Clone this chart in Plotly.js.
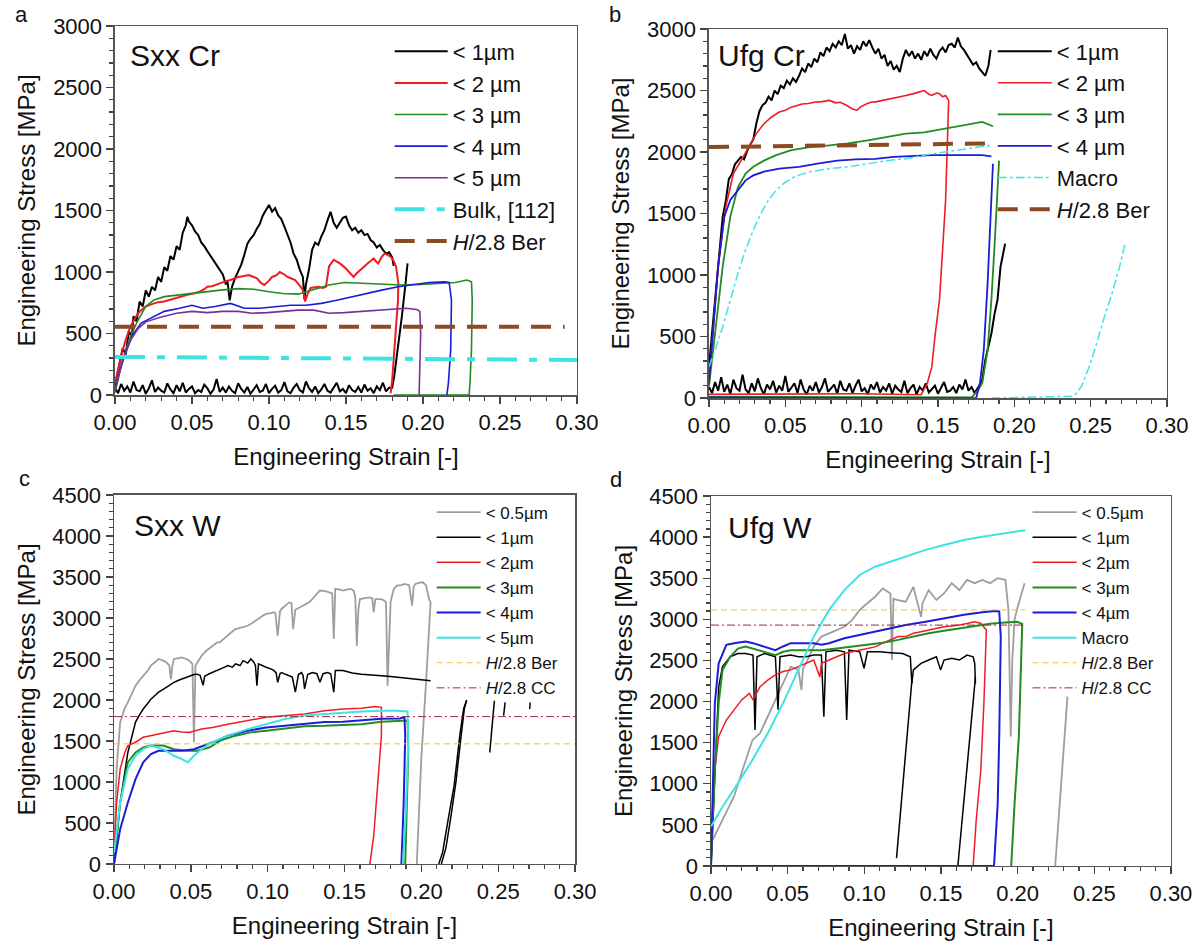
<!DOCTYPE html>
<html><head><meta charset="utf-8">
<script src="https://cdn.plot.ly/plotly-3.0.1.min.js"></script>
<style>html,body{margin:0;padding:0;background:#fff;}#chart{width:1199px;height:943px;}</style>
</head><body><div id="chart"></div>
<script>
// ===== Panel a: Sxx Cr (strain, stress MPa) =====
const aBlack = [[0,80],[0.003,250],[0.005,380],[0.007,330],[0.009,520],[0.011,470],[0.012,640],[0.014,600],[0.016,760],[0.018,720],[0.020,850],[0.022,800],[0.024,880],[0.026,850],[0.028,960],[0.030,920],[0.032,1040],[0.034,1010],[0.036,1130],[0.038,1100],[0.040,1210],[0.042,1180],[0.044,1320],[0.046,1380],[0.047,1450],[0.048,1410],[0.050,1380],[0.052,1330],[0.054,1300],[0.056,1240],[0.058,1210],[0.060,1170],[0.062,1130],[0.064,1090],[0.066,1060],[0.068,1010],[0.070,980],[0.072,900],[0.073,930],[0.0745,770],[0.076,880],[0.078,950],[0.080,1010],[0.082,1060],[0.084,1140],[0.086,1230],[0.088,1270],[0.090,1300],[0.092,1350],[0.094,1390],[0.096,1460],[0.098,1500],[0.100,1545],[0.102,1490],[0.104,1520],[0.106,1460],[0.108,1430],[0.110,1370],[0.112,1300],[0.114,1240],[0.116,1150],[0.118,1100],[0.120,1020],[0.122,960],[0.123,780],[0.124,900],[0.126,1020],[0.128,1180],[0.130,1240],[0.132,1220],[0.134,1290],[0.136,1340],[0.138,1420],[0.140,1490],[0.142,1400],[0.144,1360],[0.146,1400],[0.148,1440],[0.150,1450],[0.152,1380],[0.154,1340],[0.156,1360],[0.158,1320],[0.160,1340],[0.162,1300],[0.164,1310],[0.166,1260],[0.168,1240],[0.170,1200],[0.172,1220],[0.174,1180],[0.176,1150],[0.178,1160],[0.180,1120],[0.181,1050]];
const aBlackBase = [[0,60],[0.002,15],[0.004,90],[0.006,35],[0.008,70],[0.010,20],[0.012,110],[0.014,40],[0.016,30],[0.018,80],[0.020,10],[0.022,55],[0.024,120],[0.026,25],[0.028,60],[0.030,35],[0.032,20],[0.034,95],[0.036,45],[0.038,15],[0.040,80],[0.042,30],[0.044,100],[0.046,20],[0.048,50],[0.050,70],[0.052,15],[0.054,40],[0.056,25],[0.058,85],[0.060,55],[0.062,10],[0.064,45],[0.066,130],[0.068,25],[0.070,60],[0.072,20],[0.074,70],[0.076,35],[0.078,15],[0.080,95],[0.082,50],[0.084,20],[0.086,65],[0.088,10],[0.090,45],[0.092,80],[0.094,25],[0.096,35],[0.098,90],[0.100,15],[0.102,50],[0.104,75],[0.106,20],[0.108,40],[0.110,105],[0.112,30],[0.114,15],[0.116,60],[0.118,90],[0.120,40],[0.122,20],[0.124,110],[0.126,55],[0.128,25],[0.130,70],[0.132,15],[0.134,45],[0.136,90],[0.138,35],[0.140,20],[0.142,60],[0.144,100],[0.146,30],[0.148,50],[0.150,15],[0.152,80],[0.154,40],[0.156,25],[0.158,65],[0.160,20],[0.162,85],[0.164,35],[0.166,55],[0.168,15],[0.170,70],[0.172,40],[0.174,100],[0.176,30],[0.178,60],[0.180,60],[0.1813,150],[0.1838,390],[0.1863,640],[0.1887,910],[0.190,1070]];
const aRed = [[0,95],[0.003,260],[0.005,365],[0.007,450],[0.010,555],[0.012,600],[0.015,665],[0.018,700],[0.020,720],[0.023,735],[0.025,745],[0.028,755],[0.032,760],[0.036,775],[0.040,785],[0.044,800],[0.047,815],[0.051,825],[0.055,840],[0.058,860],[0.060,880],[0.063,885],[0.065,895],[0.068,905],[0.070,920],[0.073,930],[0.075,935],[0.078,950],[0.080,960],[0.083,965],[0.087,975],[0.090,960],[0.092,950],[0.095,910],[0.097,895],[0.100,930],[0.102,960],[0.105,975],[0.107,1000],[0.110,980],[0.112,960],[0.115,945],[0.117,935],[0.120,890],[0.122,855],[0.1235,760],[0.125,820],[0.127,870],[0.130,875],[0.132,880],[0.135,870],[0.137,880],[0.139,1045],[0.141,1080],[0.142,1100],[0.144,1085],[0.146,1070],[0.149,1040],[0.151,1015],[0.153,990],[0.155,960],[0.157,990],[0.159,1015],[0.162,1050],[0.164,1070],[0.166,1090],[0.168,1110],[0.170,1080],[0.171,1070],[0.173,1120],[0.175,1150],[0.177,1140],[0.179,1125],[0.181,1090],[0.1825,1045],[0.184,910],[0.1838,770],[0.183,640],[0.182,450],[0.181,285],[0.180,120],[0.179,14]];
const aGreen = [[0,20],[0.005,285],[0.010,475],[0.015,610],[0.020,720],[0.025,770],[0.032,800],[0.042,815],[0.052,825],[0.062,840],[0.070,855],[0.080,865],[0.090,860],[0.100,840],[0.109,825],[0.119,820],[0.129,855],[0.139,895],[0.149,915],[0.161,910],[0.174,900],[0.186,895],[0.199,900],[0.211,910],[0.221,915],[0.2285,935],[0.2315,920],[0.232,770],[0.2315,365],[0.2305,95],[0.230,0],[0.181,0]];
const aBlue = [[0,40],[0.0025,175],[0.0075,365],[0.012,500],[0.017,585],[0.025,635],[0.032,680],[0.042,705],[0.050,730],[0.057,705],[0.065,720],[0.075,745],[0.084,705],[0.094,705],[0.104,720],[0.114,730],[0.124,730],[0.134,745],[0.144,770],[0.154,800],[0.164,825],[0.174,855],[0.184,880],[0.194,900],[0.204,915],[0.214,920],[0.217,915],[0.2185,770],[0.218,365],[0.2165,95],[0.2155,0]];
const aPurple = [[0,40],[0.005,285],[0.010,445],[0.015,540],[0.020,595],[0.030,635],[0.040,665],[0.050,680],[0.060,670],[0.070,680],[0.080,680],[0.089,665],[0.099,670],[0.109,680],[0.119,690],[0.129,690],[0.139,665],[0.149,670],[0.159,680],[0.169,685],[0.179,695],[0.189,705],[0.196,695],[0.198,680],[0.1985,500],[0.198,230],[0.1975,0]];
const aBulk = [[0,310],[0.30,285]];
const aBer = [[0,555],[0.292,555]];

// ===== Panel b: Ufg Cr =====
const bBlack = [[0,255],[0.002,520],[0.004,800],[0.006,1050],[0.008,1300],[0.009,1475],[0.011,1600],[0.013,1780],[0.015,1820],[0.017,1900],[0.019,1930],[0.021,1960],[0.023,1940],[0.025,2010],[0.027,2060],[0.029,2100],[0.031,2230],[0.033,2330],[0.035,2380],[0.037,2400],[0.039,2450],[0.041,2420],[0.043,2500],[0.045,2470],[0.047,2540],[0.049,2520],[0.051,2580],[0.053,2550],[0.055,2600],[0.057,2570],[0.059,2620],[0.061,2680],[0.063,2650],[0.065,2720],[0.067,2690],[0.069,2760],[0.071,2730],[0.073,2810],[0.075,2780],[0.077,2850],[0.079,2820],[0.081,2880],[0.083,2850],[0.085,2900],[0.087,2870],[0.089,2960],[0.091,2840],[0.093,2870],[0.095,2800],[0.097,2860],[0.099,2830],[0.101,2900],[0.103,2860],[0.105,2910],[0.107,2850],[0.109,2800],[0.111,2840],[0.113,2760],[0.115,2790],[0.117,2700],[0.119,2740],[0.121,2670],[0.123,2700],[0.125,2650],[0.127,2760],[0.129,2830],[0.131,2780],[0.133,2820],[0.135,2760],[0.137,2800],[0.139,2750],[0.141,2820],[0.143,2780],[0.145,2840],[0.147,2790],[0.149,2760],[0.151,2820],[0.153,2850],[0.155,2810],[0.157,2870],[0.159,2880],[0.161,2850],[0.163,2930],[0.165,2860],[0.167,2830],[0.169,2790],[0.171,2760],[0.173,2710],[0.175,2730],[0.177,2680],[0.179,2650],[0.181,2620],[0.183,2700],[0.1845,2830]];
const bBlackBase = [[0,90],[0.002,40],[0.004,130],[0.006,60],[0.008,170],[0.010,50],[0.012,110],[0.014,30],[0.016,150],[0.018,80],[0.020,60],[0.022,190],[0.024,70],[0.026,40],[0.028,120],[0.030,55],[0.032,160],[0.034,80],[0.036,30],[0.038,110],[0.040,70],[0.042,140],[0.044,45],[0.046,100],[0.048,60],[0.050,180],[0.052,50],[0.054,90],[0.056,120],[0.058,40],[0.060,150],[0.062,70],[0.064,30],[0.066,100],[0.068,60],[0.070,130],[0.072,45],[0.074,90],[0.076,160],[0.078,50],[0.080,80],[0.082,110],[0.084,35],[0.086,140],[0.088,70],[0.090,60],[0.092,120],[0.094,40],[0.096,100],[0.098,150],[0.100,55],[0.102,80],[0.104,30],[0.106,110],[0.108,70],[0.110,130],[0.112,45],[0.114,90],[0.116,60],[0.118,120],[0.120,35],[0.122,100],[0.124,70],[0.126,50],[0.128,140],[0.130,40],[0.132,80],[0.134,110],[0.136,30],[0.138,90],[0.140,60],[0.142,120],[0.144,45],[0.146,70],[0.148,100],[0.150,35],[0.152,80],[0.154,130],[0.156,50],[0.158,60],[0.160,90],[0.162,40],[0.164,110],[0.166,70],[0.168,150],[0.170,60],[0.172,90],[0.174,40],[0.177,100],[0.179,150],[0.181,310],[0.183,420],[0.185,525],[0.187,680],[0.189,800],[0.191,1070],[0.193,1180],[0.194,1255]];
const bRed = [[0,120],[0.0025,525],[0.006,1070],[0.011,1555],[0.016,1825],[0.021,1930],[0.026,2040],[0.031,2150],[0.036,2230],[0.041,2285],[0.046,2325],[0.050,2340],[0.054,2365],[0.058,2380],[0.061,2390],[0.065,2395],[0.069,2405],[0.074,2410],[0.079,2420],[0.083,2400],[0.086,2405],[0.090,2380],[0.094,2350],[0.097,2340],[0.099,2365],[0.103,2390],[0.106,2405],[0.110,2410],[0.114,2420],[0.119,2430],[0.124,2445],[0.129,2460],[0.134,2475],[0.138,2490],[0.141,2500],[0.144,2470],[0.146,2460],[0.149,2480],[0.151,2475],[0.153,2450],[0.155,2460],[0.157,2420],[0.155,1610],[0.153,1200],[0.151,800],[0.148,500],[0.146,255],[0.143,120],[0.139,27],[0.100,35],[0.050,30],[0,30]];
const bGreen = [[0,95],[0.004,525],[0.009,1070],[0.014,1475],[0.019,1715],[0.024,1825],[0.029,1880],[0.036,1930],[0.044,1975],[0.054,2015],[0.066,2040],[0.079,2055],[0.091,2070],[0.104,2095],[0.116,2120],[0.129,2150],[0.141,2160],[0.154,2190],[0.166,2215],[0.179,2245],[0.186,2210],[null,null],[0,10],[0.100,10],[0.172,5],[0.176,60],[0.179,120],[0.1825,390],[0.185,800],[0.1875,1340],[0.190,1930]];
const bBlue = [[0,120],[0.0025,525],[0.006,1070],[0.010,1475],[0.014,1610],[0.019,1690],[0.024,1770],[0.029,1810],[0.036,1840],[0.046,1865],[0.059,1880],[0.071,1905],[0.084,1930],[0.096,1940],[0.109,1945],[0.121,1960],[0.134,1970],[0.146,1975],[0.159,1975],[0.171,1975],[0.179,1975],[0.185,1965],[null,null],[0,5],[0.100,5],[0.175,0],[0.1775,120],[0.180,390],[0.1825,930],[0.185,1610],[0.186,1905]];
const bMacro = [[0,255],[0.004,390],[0.009,580],[0.014,800],[0.019,1015],[0.024,1205],[0.029,1365],[0.034,1500],[0.039,1610],[0.044,1690],[0.049,1745],[0.056,1800],[0.066,1840],[0.079,1865],[0.091,1880],[0.104,1905],[0.116,1930],[0.129,1945],[0.141,1975],[0.154,2000],[0.166,2020],[0.179,2040],[0.185,2055],[null,null],[0.185,0],[0.239,15],[0.244,95],[0.249,255],[0.254,445],[0.259,660],[0.264,850],[0.269,1070],[0.2725,1255]];
const bBer = [[0,2040],[0.181,2070]];

// ===== Panel c: Sxx W =====
const cGray = [[0,100],[0.0017,1160],[0.004,1730],[0.007,1900],[0.009,1970],[0.012,2100],[0.014,2175],[0.017,2250],[0.019,2295],[0.022,2360],[0.024,2420],[0.027,2470],[0.029,2500],[0.032,2480],[0.034,2460],[0.036,2420],[0.037,2255],[0.038,2420],[0.039,2500],[0.042,2510],[0.044,2520],[0.047,2500],[0.049,2480],[0.051,2440],[0.052,1485],[0.053,2420],[0.055,2480],[0.057,2540],[0.060,2600],[0.062,2630],[0.064,2660],[0.067,2700],[0.069,2705],[0.071,2740],[0.074,2785],[0.076,2820],[0.079,2865],[0.082,2880],[0.085,2890],[0.087,2905],[0.090,2940],[0.092,2960],[0.094,2990],[0.097,3030],[0.099,3050],[0.102,3060],[0.104,3070],[0.105,3060],[0.1065,2785],[0.108,3080],[0.109,3110],[0.112,3160],[0.114,3190],[0.1155,3180],[0.1165,2865],[0.118,3100],[0.119,3110],[0.122,3130],[0.124,3150],[0.127,3190],[0.129,3230],[0.132,3300],[0.134,3335],[0.137,3330],[0.139,3315],[0.142,3300],[0.143,2745],[0.1435,3300],[0.144,3355],[0.147,3345],[0.149,3335],[0.152,3350],[0.154,3355],[0.156,3330],[0.157,3250],[0.158,2660],[0.159,3100],[0.160,3230],[0.163,3240],[0.166,3250],[0.168,3240],[0.169,3070],[0.170,3230],[0.172,3230],[0.174,3230],[0.176,3210],[0.177,3190],[0.178,2175],[0.180,3200],[0.182,3350],[0.184,3395],[0.187,3400],[0.189,3415],[0.192,3400],[0.194,3150],[0.195,3380],[0.196,3415],[0.199,3430],[0.201,3435],[0.203,3400],[0.205,3230],[0.206,3190],[0.2055,3000],[0.203,2200],[0.200,1300],[0.198,500],[0.197,0]];
const cBlack = [[0,0],[0.004,750],[0.009,1360],[0.012,1600],[0.014,1730],[0.017,1830],[0.019,1890],[0.022,1960],[0.024,2010],[0.027,2060],[0.029,2095],[0.032,2130],[0.034,2155],[0.037,2190],[0.039,2215],[0.042,2240],[0.044,2255],[0.047,2280],[0.049,2295],[0.052,2310],[0.054,2315],[0.056,2300],[0.058,2180],[0.059,2290],[0.062,2320],[0.064,2335],[0.067,2360],[0.069,2380],[0.072,2400],[0.074,2420],[0.077,2400],[0.079,2440],[0.082,2420],[0.084,2480],[0.087,2450],[0.089,2500],[0.091,2460],[0.092,2420],[0.093,2175],[0.094,2440],[0.097,2410],[0.099,2400],[0.102,2380],[0.104,2360],[0.1055,2330],[0.1065,2215],[0.108,2320],[0.109,2335],[0.112,2310],[0.114,2295],[0.116,2280],[0.118,2095],[0.120,2310],[0.122,2335],[0.123,2300],[0.124,2135],[0.126,2310],[0.129,2335],[0.132,2320],[0.134,2215],[0.136,2320],[0.139,2335],[0.141,2320],[0.143,2095],[0.1435,2330],[0.144,2360],[0.149,2360],[0.155,2330],[0.161,2315],[0.168,2300],[0.174,2295],[0.180,2285],[0.186,2275],[0.193,2265],[0.199,2255],[0.206,2235],[null,null],[0.2113,0],[0.2138,140],[0.2175,550],[0.2213,955],[0.225,1565],[0.2275,1890],[0.2293,1990],[null,null],[0.213,0],[0.216,200],[0.219,550],[0.2225,1000],[0.2255,1500],[0.228,1900],[0.2295,2000],[null,null],[0.2445,1360],[0.2475,1990],[null,null],[0.2535,1810],[0.2545,1970],[null,null],[0.2705,1890],[0.2708,1970]];
const cRed = [[0,140],[0.0017,750],[0.004,1160],[0.007,1360],[0.009,1445],[0.014,1485],[0.019,1545],[0.024,1565],[0.032,1605],[0.039,1625],[0.044,1610],[0.049,1605],[0.057,1645],[0.064,1665],[0.074,1705],[0.087,1750],[0.099,1790],[0.112,1810],[0.124,1830],[0.137,1870],[0.149,1890],[0.161,1900],[0.170,1920],[0.174,1910],[0.174,1565],[0.1715,955],[0.169,345],[0.1665,0]];
const cGreen = [[0,0],[0.004,750],[0.009,1240],[0.014,1360],[0.019,1420],[0.024,1445],[0.032,1445],[0.039,1400],[0.047,1380],[0.054,1380],[0.062,1420],[0.069,1505],[0.079,1565],[0.089,1605],[0.099,1625],[0.112,1655],[0.124,1680],[0.137,1685],[0.149,1695],[0.161,1705],[0.174,1735],[0.186,1750],[0.191,1750],[0.1915,1400],[0.1905,600],[0.1895,0]];
const cBlue = [[0,0],[0.004,425],[0.009,750],[0.014,1035],[0.019,1240],[0.024,1340],[0.029,1380],[0.037,1380],[0.044,1380],[0.052,1400],[0.059,1445],[0.067,1505],[0.074,1565],[0.087,1625],[0.099,1665],[0.112,1685],[0.124,1705],[0.137,1730],[0.149,1735],[0.161,1750],[0.174,1770],[0.186,1775],[0.189,1790],[0.1895,1565],[0.1885,750],[0.187,0]];
const cCyan = [[0,140],[0.004,750],[0.009,1160],[0.014,1320],[0.019,1400],[0.024,1445],[0.032,1400],[0.039,1320],[0.044,1280],[0.048,1240],[0.052,1320],[0.057,1400],[0.064,1485],[0.074,1565],[0.087,1645],[0.099,1705],[0.112,1770],[0.124,1810],[0.137,1830],[0.149,1850],[0.161,1860],[0.174,1870],[0.184,1870],[0.191,1860],[0.1915,1500],[0.190,700],[0.188,0]];
const cBer = [[0,1465],[0.30,1465]];
const cCC = [[0,1797],[0.30,1797]];

// ===== Panel d: Ufg W =====
const dGray = [[0,275],[0.0075,560],[0.015,845],[0.022,1250],[0.027,1530],[0.032,1615],[0.037,1815],[0.042,2020],[0.047,2220],[0.052,2425],[0.057,2385],[0.059,2140],[0.060,2400],[0.062,2465],[0.067,2670],[0.072,2790],[0.077,2830],[0.082,2870],[0.087,2910],[0.092,2990],[0.097,3115],[0.102,3195],[0.107,3275],[0.112,3375],[0.117,3315],[0.118,2505],[0.119,3250],[0.122,3235],[0.127,3215],[0.132,3395],[0.137,3030],[0.138,3200],[0.142,3355],[0.147,3235],[0.152,3315],[0.157,3440],[0.162,3355],[0.167,3480],[0.172,3440],[0.177,3480],[0.182,3440],[0.187,3500],[0.192,3480],[0.194,3115],[0.1955,1575],[0.1965,2500],[0.198,3000],[0.1995,3115],[0.202,3275],[0.2045,3440],[null,null],[0.2245,0],[0.2325,2060]];
const dBlack = [[0,0],[0.0025,1170],[0.005,2180],[0.0075,2425],[0.0125,2545],[0.0175,2585],[0.0225,2585],[0.0274,2565],[0.0287,1655],[0.030,2545],[0.035,2585],[0.042,2545],[0.0437,1900],[0.045,2545],[0.052,2565],[0.057,2545],[0.062,2545],[0.067,2565],[0.072,2565],[0.0736,1815],[0.075,2605],[0.082,2625],[0.087,2605],[0.0885,1775],[0.090,2625],[0.097,2605],[0.0998,2405],[0.102,2605],[0.110,2605],[0.117,2595],[0.125,2585],[0.130,2545],[0.131,2220],[0.132,2385],[0.137,2465],[0.142,2505],[0.147,2545],[0.1497,2385],[0.152,2505],[0.157,2525],[0.162,2505],[0.167,2565],[0.171,2545],[0.172,2465],[0.1725,2220],[null,null],[0.121,95],[0.131,2250],[null,null],[0.161,0],[0.1725,2300]];
const dRed = [[0,0],[0.0012,760],[0.0025,1170],[0.005,1575],[0.010,1775],[0.015,1895],[0.020,2020],[0.025,2100],[0.0274,2020],[0.032,2180],[0.037,2260],[0.042,2325],[0.047,2365],[0.052,2385],[0.057,2425],[0.062,2465],[0.067,2505],[0.071,2300],[0.072,2465],[0.077,2505],[0.082,2545],[0.087,2585],[0.092,2605],[0.097,2625],[0.102,2645],[0.107,2665],[0.112,2710],[0.117,2750],[0.122,2790],[0.127,2790],[0.132,2830],[0.137,2850],[0.142,2870],[0.147,2890],[0.152,2910],[0.157,2920],[0.162,2930],[0.167,2950],[0.172,2970],[0.176,2950],[0.178,2910],[0.1796,2870],[0.178,1980],[0.176,1170],[0.173,560],[0.171,0]];
const dGreen = [[0,0],[0.0025,1170],[0.005,1980],[0.0075,2385],[0.0125,2545],[0.0175,2645],[0.0225,2670],[0.0274,2645],[0.035,2605],[0.042,2565],[0.047,2605],[0.052,2625],[0.062,2625],[0.072,2625],[0.082,2645],[0.092,2670],[0.102,2690],[0.112,2715],[0.122,2750],[0.132,2790],[0.142,2830],[0.152,2860],[0.162,2890],[0.172,2920],[0.182,2945],[0.192,2960],[0.1995,2970],[0.203,2945],[0.202,2385],[0.2008,1575],[0.198,760],[0.1958,0]];
const dBlue = [[0,0],[0.0012,1170],[0.0025,1980],[0.005,2465],[0.010,2690],[0.015,2710],[0.0225,2730],[0.0274,2710],[0.035,2670],[0.042,2625],[0.047,2670],[0.052,2710],[0.060,2710],[0.067,2710],[0.072,2690],[0.077,2710],[0.087,2770],[0.097,2810],[0.107,2850],[0.117,2890],[0.127,2930],[0.140,2970],[0.152,3010],[0.165,3055],[0.177,3085],[0.185,3100],[0.188,3095],[0.189,2790],[0.188,1575],[0.187,760],[0.1846,0],[0,0]];
const dMacro = [[0,480],[0.0075,720],[0.0175,1005],[0.027,1290],[0.037,1615],[0.047,1980],[0.057,2385],[0.067,2790],[0.077,3115],[0.087,3355],[0.097,3540],[0.107,3640],[0.117,3700],[0.127,3760],[0.140,3845],[0.152,3905],[0.165,3965],[0.177,4005],[0.190,4045],[0.205,4085]];
const dBer = [[0,3115],[0.205,3115]];
const dCC = [[0,2930],[0.205,2930]];

// legend labels
const labA = ['&lt; 1µm','&lt; 2 µm','&lt; 3 µm','&lt; 4 µm','&lt; 5 µm','Bulk, [112]','<i>H</i>/2.8 Ber'];
const labB = ['&lt; 1µm','&lt; 2 µm','&lt; 3 µm','&lt; 4 µm','Macro','<i>H</i>/2.8 Ber'];
const labC = ['&lt; 0.5µm','&lt; 1µm','&lt; 2µm','&lt; 3µm','&lt; 4µm','&lt; 5µm','<i>H</i>/2.8 Ber','<i>H</i>/2.8 CC'];
const labD = ['&lt; 0.5µm','&lt; 1µm','&lt; 2µm','&lt; 3µm','&lt; 4µm','Macro','<i>H</i>/2.8 Ber','<i>H</i>/2.8 CC'];

const C = {black:'#000000', red:'#ee1c24', green:'#228b22', blue:'#1c1cd8', purple:'#7a2f96', cyan:'#3fe3e3', brown:'#8b4a1f', gray:'#9e9e9e', yellow:'#f2c13a', dred:'#9c2a3a'};

function tr(pairs, name, color, width, dash, n, leg){
  return {x: pairs.map(p=>p[0]), y: pairs.map(p=>p[1]), name: name, mode:'lines', type:'scatter',
    line:{color:color, width:width, dash:dash||'solid'}, connectgaps:false,
    xaxis: n===1?'x':'x'+n, yaxis: n===1?'y':'y'+n, legend: leg, legendgroup: leg+name, hoverinfo:'skip'};
}
const gapP = [[null,null]];
const traces = [
  tr(aBlack.concat(gapP, aBlackBase), labA[0], C.black, 2, 'solid', 1, 'legend'),
  tr(aRed, labA[1], C.red, 2, 'solid', 1, 'legend'),
  tr(aGreen, labA[2], C.green, 1.6, 'solid', 1, 'legend'),
  tr(aBlue, labA[3], C.blue, 1.6, 'solid', 1, 'legend'),
  tr(aPurple, labA[4], C.purple, 1.6, 'solid', 1, 'legend'),
  tr(aBulk, labA[5], C.cyan, 4, '30px,12px,8px,12px', 1, 'legend'),
  tr(aBer, labA[6], C.brown, 4, '20px,12px', 1, 'legend'),

  tr(bBlack.concat(gapP, bBlackBase), labB[0], C.black, 2, 'solid', 2, 'legend2'),
  tr(bRed, labB[1], C.red, 1.6, 'solid', 2, 'legend2'),
  tr(bGreen, labB[2], C.green, 1.8, 'solid', 2, 'legend2'),
  tr(bBlue, labB[3], C.blue, 1.8, 'solid', 2, 'legend2'),
  tr(bMacro, labB[4], C.cyan, 1.5, 'dashdot', 2, 'legend2'),
  tr(bBer, labB[5], C.brown, 4, '20px,12px', 2, 'legend2'),

  tr(cGray, labC[0], C.gray, 1.8, 'solid', 3, 'legend3'),
  tr(cBlack, labC[1], C.black, 1.5, 'solid', 3, 'legend3'),
  tr(cRed, labC[2], C.red, 1.5, 'solid', 3, 'legend3'),
  tr(cGreen, labC[3], C.green, 2, 'solid', 3, 'legend3'),
  tr(cBlue, labC[4], C.blue, 2, 'solid', 3, 'legend3'),
  tr(cCyan, labC[5], C.cyan, 2, 'solid', 3, 'legend3'),
  tr(cBer, labC[6], C.yellow, 1, '6px,4px', 3, 'legend3'),
  tr(cCC, labC[7], C.dred, 1, '8px,3px,2px,3px', 3, 'legend3'),

  tr(dGray, labD[0], C.gray, 1.8, 'solid', 4, 'legend4'),
  tr(dBlack, labD[1], C.black, 1.5, 'solid', 4, 'legend4'),
  tr(dRed, labD[2], C.red, 1.5, 'solid', 4, 'legend4'),
  tr(dGreen, labD[3], C.green, 2, 'solid', 4, 'legend4'),
  tr(dBlue, labD[4], C.blue, 2, 'solid', 4, 'legend4'),
  tr(dMacro, labD[5], C.cyan, 2, 'solid', 4, 'legend4'),
  tr(dBer, labD[6], C.yellow, 1, '6px,4px', 4, 'legend4'),
  tr(dCC, labD[7], C.dred, 1, '8px,3px,2px,3px', 4, 'legend4')
];

const FONT = 'Liberation Sans, Arial, sans-serif';
function xax(dom, anchor){
  return {domain:dom, anchor:anchor, range:[0,0.30], dtick:0.05, tick0:0, tickformat:'.2f', ticks:'outside', ticklen:7, tickwidth:1.3, tickcolor:'#444',
    minor:{dtick:0.01, ticks:'outside', ticklen:4, tickcolor:'#444'},
    showline:true, linecolor:'#555', linewidth:1.5, mirror:true, showgrid:false, zeroline:false,
    tickfont:{family:FONT, size:22, color:'#111'},
    title:{text:'Engineering Strain [-]', font:{family:FONT, size:24, color:'#111'}, standoff:14}};
}
function yax(dom, anchor, top){
  return {domain:dom, anchor:anchor, range:[0,top], dtick:500, tick0:0, ticks:'outside', ticklen:7, tickwidth:1.3, tickcolor:'#444',
    minor:{dtick:100, ticks:'outside', ticklen:4, tickcolor:'#444'},
    showline:true, linecolor:'#555', linewidth:1.5, mirror:true, showgrid:false, zeroline:false,
    tickfont:{family:FONT, size:22, color:'#111'},
    title:{text:'Engineering Stress [MPa]', font:{family:FONT, size:24, color:'#111'}, standoff:10}};
}
function leg(x, y, size, iw, gap){
  return {x:x, y:y, xanchor:'left', yanchor:'top', bgcolor:'rgba(0,0,0,0)', borderwidth:0,
    font:{family:FONT, size:size, color:'#111'}, tracegroupgap:gap, itemwidth:iw, traceorder:'normal'};
}
const ann = (t, x, y, size)=>({text:t, xref:'paper', yref:'paper', x:x, y:y, xanchor:'left', yanchor:'middle', showarrow:false, font:{family:FONT, size:size, color:'#111'}});

const layout = {
  width:1199, height:943, margin:{l:0, r:0, t:0, b:0}, paper_bgcolor:'#fff', plot_bgcolor:'#fff', showlegend:true,
  xaxis: xax([0.0959,0.4812],'y'), yaxis: yax([0.5811,0.9724],'x',3000),
  xaxis2: xax([0.5913,0.9733],'y2'), yaxis2: yax([0.5779,0.9692],'x2',3000),
  xaxis3: xax([0.0951,0.4796],'y3'), yaxis3: yax([0.0838,0.4751],'x3',4500),
  xaxis4: xax([0.5930,0.9766],'y4'), yaxis4: yax([0.0817,0.4740],'x4',4500),
  legend: leg(0.325, 0.9676, 22, 53, 2),
  legend2: leg(0.828, 0.9678, 22, 54, 0),
  legend3: leg(0.360, 0.4755, 17, 44, 0),
  legend4: leg(0.857, 0.4755, 17, 44, 0),
  annotations: [
    ann('a', 0.011, 1-15/943, 22), ann('b', 0.506, 1-15/943, 22),
    ann('c', 0.014, 1-478/943, 22), ann('d', 0.507, 1-480/943, 22),
    ann('Sxx Cr', 128/1199, 1-55/943, 30), ann('Ufg Cr', 716/1199, 1-55/943, 30),
    ann('Sxx W', 132/1199, 1-525/943, 30), ann('Ufg W', 726/1199, 1-527/943, 30)
  ]
};
Plotly.newPlot('chart', traces, layout, {displayModeBar:false, staticPlot:true});
</script></body></html>
